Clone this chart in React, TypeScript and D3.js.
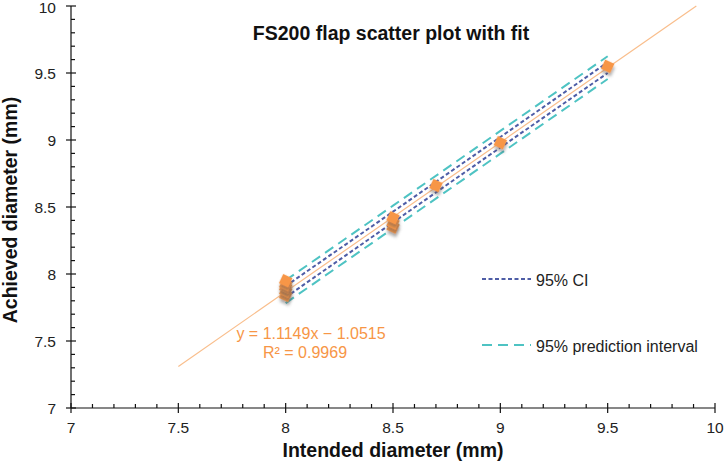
import React, { useEffect, useRef } from 'react';
import * as d3 from 'd3';

// measured points (intended vs achieved, mm)
const intended = [8, 8, 8, 8, 8, 8.5, 8.5, 8.5, 8.7, 9, 9.5];
const achieved = [7.84, 7.87, 7.9, 7.92, 7.95, 8.35, 8.38, 8.42, 8.66, 8.98, 9.55];

// fit line end points
const fitX = [7.5, 9.913];
const fitY = [7.3103, 10];

// bands
const bandX = [8, 8.5, 9, 9.5];
const ciUpper = [7.91, 8.465, 9.022, 9.58];
const ciLower = [7.826, 8.385, 8.944, 9.5];
const piUpper = [7.953, 8.51, 9.068, 9.625];
const piLower = [7.783, 8.34, 8.898, 9.455];

const xTicks = [7, 7.5, 8, 8.5, 9, 9.5, 10];
const yTicks = [7, 7.5, 8, 8.5, 9, 9.5, 10];

const ORANGE = '#F79646';
const CI_COL = '#4E5DA6';
const PI_COL = '#4EC3C3';

const App = () => {
  const ref = useRef<SVGSVGElement>(null);

  useEffect(() => {
    document.body.style.margin = '0';
    const width = 725;
    const height = 471;
    const svg = d3.select(ref.current).attr('width', width).attr('height', height);
    svg.selectAll('*').remove();

    const x = d3.scaleLinear().domain([7, 10]).range([71, 715]);
    const y = d3.scaleLinear().domain([7, 10]).range([408, 6]);
    const font = 'Arial, "Liberation Sans", sans-serif';

    const defs = svg.append('defs');
    defs.append('filter')
      .attr('id', 'shadow')
      .attr('x', '-50%').attr('y', '-50%').attr('width', '200%').attr('height', '200%')
      .append('feDropShadow')
      .attr('dx', 2).attr('dy', 3).attr('stdDeviation', 1.8)
      .attr('flood-color', '#555').attr('flood-opacity', 0.45);

    // title
    svg.append('text')
      .attr('x', 391).attr('y', 40)
      .attr('text-anchor', 'middle')
      .attr('font-family', font).attr('font-weight', 'bold').attr('font-size', 19.5)
      .attr('fill', '#111')
      .text('FS200 flap scatter plot with fit');

    // axes
    const axis = svg.append('g').attr('stroke', '#111').attr('stroke-width', 1.2);
    axis.append('line').attr('x1', x(7)).attr('x2', x(10)).attr('y1', y(7)).attr('y2', y(7));
    axis.append('line').attr('x1', x(7)).attr('x2', x(7)).attr('y1', y(7)).attr('y2', y(10));

    const minor = d3.range(70, 101).map(d => d / 10).filter(d => Math.round(d * 10) % 5 !== 0);
    minor.forEach(v => {
      axis.append('line').attr('x1', x(v)).attr('x2', x(v)).attr('y1', y(7)).attr('y2', y(7) - 4);
      axis.append('line').attr('x1', x(7)).attr('x2', x(7) + 4).attr('y1', y(v)).attr('y2', y(v));
    });
    xTicks.forEach(v => {
      axis.append('line').attr('x1', x(v)).attr('x2', x(v)).attr('y1', y(7) - 5).attr('y2', y(7) + 5);
    });
    yTicks.forEach(v => {
      axis.append('line').attr('x1', x(7) - 5).attr('x2', x(7) + 5).attr('y1', y(v)).attr('y2', y(v));
    });

    svg.append('g').selectAll('text').data(xTicks).join('text')
      .attr('x', d => x(d)).attr('y', 433)
      .attr('text-anchor', 'middle')
      .attr('font-family', font).attr('font-size', 15.5).attr('fill', '#222')
      .text(d => String(d));

    svg.append('g').selectAll('text').data(yTicks).join('text')
      .attr('x', 56).attr('y', d => Math.max(y(d) + 5.5, 13))
      .attr('text-anchor', 'end')
      .attr('font-family', font).attr('font-size', 15.5).attr('fill', '#222')
      .text(d => String(d));

    svg.append('text')
      .attr('x', 393).attr('y', 457)
      .attr('text-anchor', 'middle')
      .attr('font-family', font).attr('font-weight', 'bold').attr('font-size', 19.5)
      .attr('fill', '#111')
      .text('Intended diameter (mm)');

    svg.append('text')
      .attr('transform', 'translate(17, 210) rotate(-90)')
      .attr('text-anchor', 'middle')
      .attr('font-family', font).attr('font-weight', 'bold').attr('font-size', 19.5)
      .attr('fill', '#111')
      .text('Achieved diameter (mm)');

    const line = d3.line<[number, number]>().x(d => x(d[0])).y(d => y(d[1]));

    // fit line
    svg.append('path')
      .attr('d', line(fitX.map((v, i) => [v, fitY[i]])))
      .attr('fill', 'none').attr('stroke', '#F9BE8C').attr('stroke-width', 1.2);

    // bands
    const bands = [
      { vals: piUpper, col: PI_COL, dash: '10 6', w: 2 },
      { vals: piLower, col: PI_COL, dash: '10 6', w: 2 },
      { vals: ciUpper, col: CI_COL, dash: '4 2.5', w: 2 },
      { vals: ciLower, col: CI_COL, dash: '4 2.5', w: 2 },
    ];
    bands.forEach(b => {
      svg.append('path')
        .attr('d', line(bandX.map((v, i) => [v, b.vals[i]])))
        .attr('fill', 'none').attr('stroke', b.col)
        .attr('stroke-width', b.w).attr('stroke-dasharray', b.dash);
    });

    // points
    const marker = d3.symbol().type(d3.symbolSquare).size(105);
    svg.append('g').selectAll('path').data(intended).join('path')
      .attr('d', marker)
      .attr('transform', (d, i) => `translate(${x(d)},${y(achieved[i])}) rotate(25)`)
      .attr('fill', ORANGE)
      .attr('filter', 'url(#shadow)');

    // equation
    svg.append('text')
      .attr('x', 311).attr('y', 339)
      .attr('text-anchor', 'middle')
      .attr('font-family', font).attr('font-size', 16).attr('fill', ORANGE)
      .text('y = 1.1149x − 1.0515');
    svg.append('text')
      .attr('x', 305).attr('y', 358)
      .attr('text-anchor', 'middle')
      .attr('font-family', font).attr('font-size', 16).attr('fill', ORANGE)
      .text('R² = 0.9969');

    // legend
    const legend = [
      { label: '95% CI', col: CI_COL, dash: '4 2.5', yy: 279 },
      { label: '95% prediction interval', col: PI_COL, dash: '10 6', yy: 345 },
    ];
    legend.forEach(l => {
      svg.append('line')
        .attr('x1', 482).attr('x2', 531).attr('y1', l.yy).attr('y2', l.yy)
        .attr('stroke', l.col).attr('stroke-width', 2).attr('stroke-dasharray', l.dash);
      svg.append('text')
        .attr('x', 536).attr('y', l.yy + 6.5)
        .attr('font-family', font).attr('font-size', 16).attr('fill', '#222')
        .text(l.label);
    });
  }, []);

  return <svg ref={ref} style={{ display: 'block' }}></svg>;
};

export default App;
